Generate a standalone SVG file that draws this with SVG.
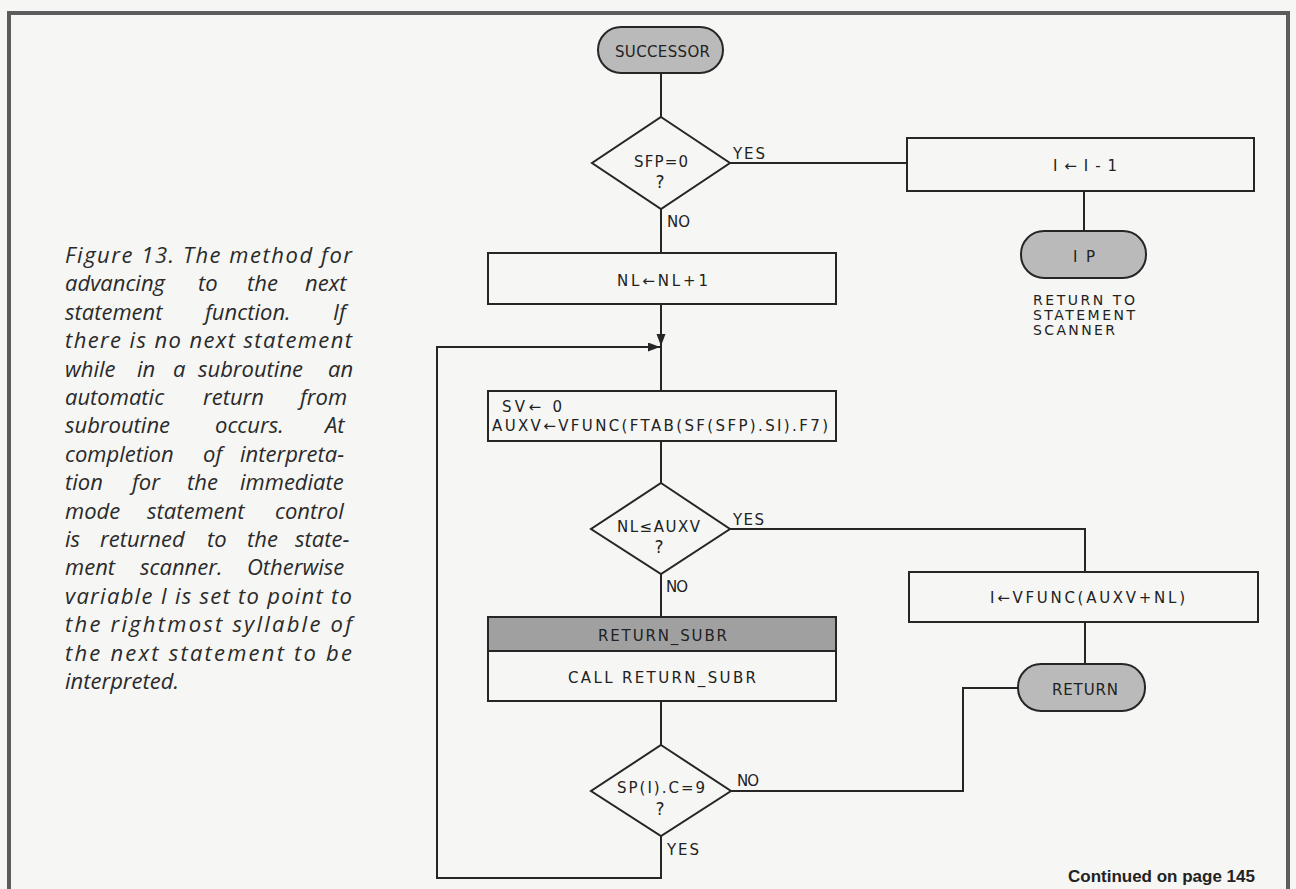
<svg xmlns="http://www.w3.org/2000/svg" width="1296" height="889" viewBox="0 0 1296 889">
<style>
.ln{fill:none;stroke:#262626;stroke-width:2}
.box{fill:#f6f6f4;stroke:#262626;stroke-width:2}
.term{fill:#bababa;stroke:#262626;stroke-width:2}
.hdr{fill:#a0a0a0;stroke:#262626;stroke-width:2}
.t{font-family:"DejaVu Sans","Liberation Sans",sans-serif;font-size:15px;fill:#222}
.q{font-family:"DejaVu Sans","Liberation Sans",sans-serif;font-size:17px;fill:#222}
.s{font-family:"DejaVu Sans","Liberation Sans",sans-serif;font-size:14px;fill:#222}
.cap{font-family:"Open Sans","Liberation Sans",sans-serif;font-style:italic;font-size:22px;fill:#2a2a2a}
.bold{font-family:"Liberation Sans",Arial,sans-serif;font-weight:bold;font-size:17px;fill:#222}
</style>
<defs>
<marker id="ah" markerUnits="userSpaceOnUse" markerWidth="13" markerHeight="10" refX="12" refY="4.5" orient="auto">
<path d="M0,0 L12,4.5 L0,9 z" fill="#262626"/>
</marker>
</defs>
<rect width="1296" height="889" fill="#f6f6f4"/>
<path d="M9,889 V13 H1288 V889" fill="none" stroke="#5c5c5c" stroke-width="4"/>

<g id="caption">
<text class="cap" x="65" y="263" textLength="287" lengthAdjust="spacing">Figure 13. The method for</text>
<text class="cap" y="291.4"><tspan x="65">advancing</tspan><tspan x="198">to</tspan><tspan x="247">the</tspan><tspan x="305">next</tspan></text>
<text class="cap" y="319.8"><tspan x="65">statement</tspan><tspan x="205">function.</tspan><tspan x="333">If</tspan></text>
<text class="cap" x="65" y="348.2" textLength="287" lengthAdjust="spacing">there is no next statement</text>
<text class="cap" y="376.6"><tspan x="65">while</tspan><tspan x="137">in</tspan><tspan x="173">a</tspan><tspan x="198">subroutine</tspan><tspan x="328">an</tspan></text>
<text class="cap" y="405"><tspan x="65">automatic</tspan><tspan x="203">return</tspan><tspan x="300">from</tspan></text>
<text class="cap" y="433.4"><tspan x="65">subroutine</tspan><tspan x="215">occurs.</tspan><tspan x="325">At</tspan></text>
<text class="cap" y="461.8"><tspan x="65">completion</tspan><tspan x="203">of</tspan><tspan x="240">interpreta-</tspan></text>
<text class="cap" y="490.2"><tspan x="65">tion</tspan><tspan x="132">for</tspan><tspan x="187">the</tspan><tspan x="240">immediate</tspan></text>
<text class="cap" y="518.6"><tspan x="65">mode</tspan><tspan x="147">statement</tspan><tspan x="275">control</tspan></text>
<text class="cap" y="547"><tspan x="65">is</tspan><tspan x="100">returned</tspan><tspan x="207">to</tspan><tspan x="247">the</tspan><tspan x="295">state-</tspan></text>
<text class="cap" y="575.4"><tspan x="65">ment</tspan><tspan x="140">scanner.</tspan><tspan x="247">Otherwise</tspan></text>
<text class="cap" x="65" y="603.8" textLength="287" lengthAdjust="spacing">variable I is set to point to</text>
<text class="cap" x="65" y="632.2" textLength="287" lengthAdjust="spacing">the rightmost syllable of</text>
<text class="cap" x="65" y="660.6" textLength="287" lengthAdjust="spacing">the next statement to be</text>
<text class="cap" x="65" y="689">interpreted.</text>
</g>

<g id="connectors">
<path class="ln" d="M661,73 V117"/>
<path class="ln" d="M730,163 H907"/>
<path class="ln" d="M1084,191 V231"/>
<path class="ln" d="M661,209 V253"/>
<path class="ln" d="M661,304 V346" marker-end="url(#ah)"/>
<path class="ln" d="M661,346 V391"/>
<path class="ln" d="M661,441 V483"/>
<path class="ln" d="M730,529 H1085 V572"/>
<path class="ln" d="M661,574 V617"/>
<path class="ln" d="M661,701 V745"/>
<path class="ln" d="M1085,622 V664"/>
<path class="ln" d="M731,791 H963 V688 H1018"/>
<path class="ln" d="M661,836 V878 H437 V347 H660" marker-end="url(#ah)"/>
<text class="t" x="733" y="159" textLength="32" lengthAdjust="spacing">YES</text>
<text class="t" x="667" y="227" textLength="23" lengthAdjust="spacing">NO</text>
<text class="t" x="733" y="525" textLength="31" lengthAdjust="spacing">YES</text>
<text class="t" x="666" y="592" textLength="22" lengthAdjust="spacing">NO</text>
<text class="t" x="737" y="786" textLength="22" lengthAdjust="spacing">NO</text>
<text class="t" x="667" y="855" textLength="32" lengthAdjust="spacing">YES</text>
</g>

<g id="successor">
<rect class="term" x="598" y="27" width="125" height="46" rx="23"/>
<text class="t" x="615" y="57" textLength="95" lengthAdjust="spacing">SUCCESSOR</text>
</g>

<g id="sfp-decision">
<polygon class="box" points="661,117 730,163 661,209 592,163"/>
<text class="t" x="634" y="167" textLength="54" lengthAdjust="spacing">SFP=0</text>
<text class="q" x="660" y="188" text-anchor="middle">?</text>
</g>

<g id="dec-i">
<rect class="box" x="907" y="138" width="347" height="53"/>
<text class="t" x="1053" y="171" textLength="64" lengthAdjust="spacing">I←I-1</text>
</g>

<g id="ip">
<rect class="term" x="1021" y="231" width="125" height="47" rx="23"/>
<text class="t" x="1073" y="262" textLength="22" lengthAdjust="spacing">IP</text>
<text class="s" x="1033" y="305" textLength="102" lengthAdjust="spacing">RETURN TO</text>
<text class="s" x="1033" y="320" textLength="102" lengthAdjust="spacing">STATEMENT</text>
<text class="s" x="1033" y="335" textLength="82" lengthAdjust="spacing">SCANNER</text>
</g>

<g id="inc-nl">
<rect class="box" x="488" y="253" width="348" height="51"/>
<text class="t" x="617" y="286" textLength="91" lengthAdjust="spacing">NL←NL+1</text>
</g>

<g id="set-sv">
<rect class="box" x="488" y="391" width="348" height="50"/>
<text class="t" x="502" y="412" textLength="60" lengthAdjust="spacing">SV← 0</text>
<text class="t" x="492" y="431" textLength="336" lengthAdjust="spacing">AUXV←VFUNC(FTAB(SF(SFP).SI).F7)</text>
</g>

<g id="nl-decision">
<polygon class="box" points="661,483 730,529 661,574 591,529"/>
<text class="t" x="617" y="532" textLength="83" lengthAdjust="spacing">NL≤AUXV</text>
<text class="q" x="659" y="553" text-anchor="middle">?</text>
</g>

<g id="set-i">
<rect class="box" x="909" y="572" width="349" height="50"/>
<text class="t" x="990" y="603" textLength="195" lengthAdjust="spacing">I←VFUNC(AUXV+NL)</text>
</g>

<g id="return-subr">
<rect class="box" x="488" y="617" width="348" height="84"/>
<rect class="hdr" x="488" y="617" width="348" height="34"/>
<text class="t" x="598" y="641" textLength="129" lengthAdjust="spacing">RETURN_SUBR</text>
<text class="t" x="568" y="683" textLength="188" lengthAdjust="spacing">CALL RETURN_SUBR</text>
</g>

<g id="sp-decision">
<polygon class="box" points="661,745 731,791 661,836 591,791"/>
<text class="t" x="617" y="793" textLength="88" lengthAdjust="spacing">SP(I).C=9</text>
<text class="q" x="660" y="815" text-anchor="middle">?</text>
</g>

<g id="return">
<rect class="term" x="1018" y="664" width="127" height="47" rx="23"/>
<text class="t" x="1052" y="695" textLength="66" lengthAdjust="spacing">RETURN</text>
</g>

<g id="footer">
<text class="bold" x="1255" y="882" text-anchor="end">Continued on page 145</text>
</g>
</svg>
